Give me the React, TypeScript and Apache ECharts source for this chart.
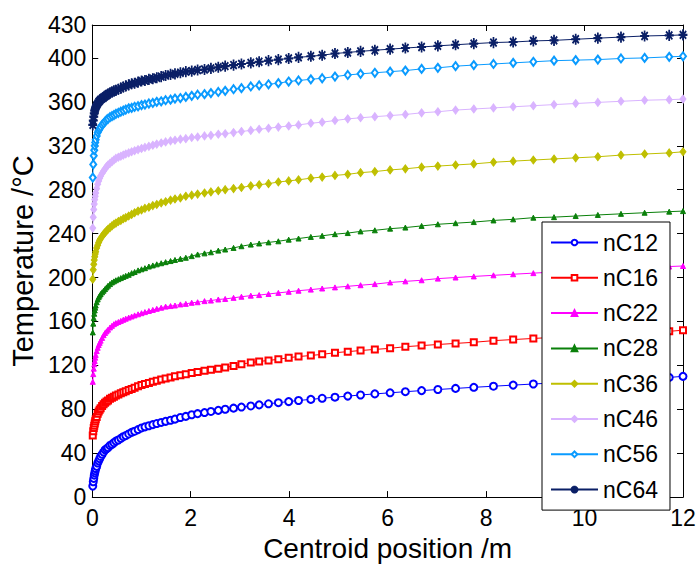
import React, { useEffect, useRef } from "react";
import * as echarts from "echarts";

// Centroid positions (m) — shared mesh, dense near x = 0
const positions = [
  0.01, 0.02, 0.03, 0.04, 0.05, 0.06, 0.07, 0.09, 0.11, 0.13, 0.15, 0.17, 0.2, 0.23, 0.26, 0.29, 0.32, 0.36, 0.4, 0.44,
  0.48, 0.53, 0.58, 0.63, 0.68, 0.74, 0.8, 0.86, 0.93, 1.0, 1.07, 1.15, 1.23, 1.31, 1.4, 1.49, 1.59, 1.68, 1.79, 1.9,
  2.02, 2.14, 2.28, 2.41, 2.56, 2.7, 2.87, 3.03, 3.22, 3.39, 3.58, 3.78, 3.99, 4.19, 4.44, 4.67, 4.93, 5.19, 5.45, 5.74,
  6.05, 6.36, 6.69, 7.02, 7.38, 7.75, 8.15, 8.55, 8.96, 9.38, 9.82, 10.27, 10.74, 11.22, 11.72, 12.0,
];

const nC12 = [
  10, 14, 17, 20, 22, 24, 26, 28, 31, 33, 35, 37, 39, 41, 43, 44, 45, 47, 48, 49.5,
  51, 52, 53.5, 55, 56, 57.5, 59, 60, 61.5, 63, 64, 65, 66, 67, 68, 69, 70, 71, 72.5, 73.5,
  75, 76, 77, 78, 79, 80, 81, 82, 83, 84, 85, 86, 87, 88, 89, 90, 91, 92, 93, 94,
  95, 96, 97, 98, 99, 100, 101, 102, 103, 104, 105, 106, 107, 108, 109, 110,
];
const nC16 = [
  56, 60, 63, 65, 67, 69, 71, 73, 76, 78, 79.5, 81, 83, 84.5, 86, 87, 88, 89.5, 90.5, 91.5,
  92.5, 93.5, 94.5, 95.5, 96.5, 97.5, 98.5, 99.5, 101, 102, 103, 104, 105, 106, 107, 108, 109, 110, 111, 112,
  113, 114, 115, 116, 117, 118, 119.5, 121, 122.5, 123.5, 124.5, 125.5, 127, 128, 129, 130, 131.5, 132.5, 133.5, 134.5,
  135.5, 137, 138, 139, 140, 141, 142.5, 143.5, 144.5, 145.5, 146.5, 147.5, 149, 150, 151, 152,
];
const nC22 = [
  105, 112, 117, 121, 124, 127, 129.5, 133, 136, 138.5, 140.5, 142.5, 145, 147.5, 149.5, 151, 152.5, 154.5, 156, 157.5,
  158.5, 159.5, 160.5, 161.5, 162.5, 163.5, 164.5, 165.5, 166.5, 167.5, 168.5, 169.5, 170.5, 171.5, 172.5, 173.5, 174, 174.5, 175.5, 176,
  177, 177.5, 178.5, 179, 180, 180.5, 181.5, 182.5, 183.5, 184, 185, 186, 187, 188, 189, 190, 191, 192, 193, 194,
  195.5, 196.5, 197.5, 199, 200, 201, 202, 203, 204, 205, 206, 207, 208, 209, 210, 210.5,
];
const nC28 = [
  150, 158, 163, 167, 170, 172.5, 174.5, 177.5, 180, 182, 183.5, 185, 186.5, 188, 189.5, 191, 192.5, 194, 195.5, 196.5,
  197.5, 198.5, 199.5, 200.5, 201.5, 202.5, 204, 205, 206.5, 207.5, 208.5, 210, 211, 212, 213, 214, 215, 216, 217, 218,
  219.5, 221, 222, 223, 224.5, 225.5, 227, 228.5, 230, 231, 232, 233, 234.5, 235.5, 237, 238, 239.5, 240.5, 242, 243,
  244.5, 245.5, 247, 248.5, 249.5, 250.5, 252, 253, 254.5, 255, 256, 257, 258, 259, 260, 260.5,
];
const nC36 = [
  198.5, 207, 212, 216, 219, 221.5, 223.5, 227, 229.5, 232, 234, 235.5, 237.5, 239.5, 241, 242.5, 244, 245.5, 247, 248.5,
  249.5, 251, 252, 253.5, 254.5, 256, 257.5, 259, 260.5, 261.5, 263, 264, 265.5, 266.5, 268, 269, 270.5, 271.5, 272.5, 274,
  275, 276, 277, 278, 279, 280, 281, 282, 283.5, 284.5, 285.5, 287, 288, 289, 290.5, 291.5, 293, 294, 295.5, 296.5,
  298, 299, 300.5, 301.5, 302.5, 303.5, 305, 306, 307, 308, 309, 310, 311.5, 312.5, 313.5, 314.5,
];
const nC46 = [
  245, 255, 262, 267, 271, 274, 277, 281, 285, 288, 290.5, 292.5, 295, 297, 299, 301, 302.5, 304, 305.5, 307,
  308.5, 309.5, 310.5, 311.5, 312.5, 313.5, 314.5, 315.5, 316.5, 317.5, 318.5, 319.5, 320.5, 321.5, 322.5, 323.5, 324.5, 325, 326, 326.5,
  327.5, 328, 329, 329.5, 330.5, 331, 332, 333, 334, 335, 336, 337, 338, 339, 340.5, 341.5, 343, 344.5, 345.5, 346.5,
  347.5, 348.5, 350, 351, 352.5, 353.5, 354.5, 355.5, 356.5, 357.5, 358.5, 359.5, 360.5, 361.5, 362, 362.5,
];
const nC56 = [
  291, 303, 311, 316, 320, 323, 325.5, 329, 332, 334, 335.5, 337, 339, 340.5, 342, 343.5, 344.5, 346, 347, 348,
  349, 350, 351, 352, 353, 354, 354.5, 355.5, 356, 357, 357.5, 358.5, 359, 360, 360.5, 361.5, 362, 363, 363.5, 364.5,
  365.5, 366.5, 367, 368, 369, 370, 371.5, 372.5, 374, 375, 376, 377, 378.5, 379.5, 380.5, 381.5, 383, 384.5, 385.5, 386.5,
  387.5, 388.5, 390, 391, 392.5, 393.5, 394.5, 395.5, 396.5, 397.5, 398, 398.5, 399.5, 400, 401, 401.5,
];
const nC64 = [
  339, 343, 346.5, 349.5, 352, 353.5, 355, 357, 358.5, 360, 361, 362, 363, 364, 365, 366, 367, 368, 369, 370,
  370.5, 371.5, 372.5, 373.5, 374.5, 375.5, 376.5, 377, 378, 379, 379.5, 380.5, 381, 382, 383, 384, 385, 385.5, 386.5, 387.5,
  388, 389, 389.5, 390.5, 391.5, 392.5, 393.5, 394.5, 395.5, 396.5, 397.5, 398.5, 399.5, 400.5, 401.5, 402.5, 404, 405, 406, 407,
  408, 409, 410, 411, 412, 413, 414, 414.5, 415.5, 416, 417, 418, 419, 420, 420.5, 421,
];

const seriesNames = ["nC12", "nC16", "nC22", "nC28", "nC36", "nC46", "nC56", "nC64"];
const seriesValues = [nC12, nC16, nC22, nC28, nC36, nC46, nC56, nC64];
const seriesColors = ["#0000ff", "#ff0000", "#ff00ff", "#0a800a", "#bfbf00", "#d9b3ff", "#0a9bff", "#0a1f66"];

const asterisk =
  "path://M9,0 H11 V20 H9 Z M0,9 H20 V11 H0 Z M2.2,3.6 L3.6,2.2 L17.8,16.4 L16.4,17.8 Z M16.4,2.2 L17.8,3.6 L3.6,17.8 L2.2,16.4 Z M7,7 H13 V13 H7 Z";
const seriesSymbols: any[] = ["emptyCircle", "emptyRect", "triangle", "triangle", "diamond", "diamond", "emptyDiamond", asterisk];
const seriesSymbolSizes: any[] = [7, 6, 5, 5, [6, 8], [6, 8], [6, 8], [8, 10]];

const xTicksMax = 12;
const yMax = 430;
const FONT = "'Liberation Sans', Arial, sans-serif";

export default function App() {
  const ref = useRef<HTMLDivElement>(null);
  useEffect(() => {
    if (!ref.current) return;
    const chart = echarts.init(ref.current, undefined, { renderer: "svg" });
    const axisCommon = {
      axisLine: { show: true, onZero: false, lineStyle: { color: "#000", width: 1 } },
      axisTick: { show: true, inside: true, length: 6, lineStyle: { color: "#000", width: 1 } },
      splitLine: { show: false },
    };
    chart.setOption({
      animation: false,
      textStyle: { fontFamily: FONT },
      grid: { left: 89, right: 16, top: 25, bottom: 65, containLabel: false },
      xAxis: [
        {
          type: "value",
          min: 0,
          max: xTicksMax,
          interval: 2,
          position: "bottom",
          ...axisCommon,
          axisLabel: { color: "#000", fontSize: 23, fontFamily: FONT, margin: 9 },
          name: "Centroid position /m",
          nameLocation: "middle",
          nameGap: 36,
          nameTextStyle: { color: "#000", fontSize: 28, fontFamily: FONT },
        },
        {
          type: "value",
          min: 0,
          max: xTicksMax,
          interval: 2,
          position: "top",
          ...axisCommon,
          axisLabel: { show: false },
        },
      ],
      yAxis: [
        {
          type: "value",
          min: 0,
          max: yMax,
          interval: 40,
          position: "left",
          ...axisCommon,
          axisLabel: { color: "#000", fontSize: 23, fontFamily: FONT, margin: 6, showMaxLabel: true },
          name: "Temperature /°C",
          nameLocation: "middle",
          nameGap: 55,
          nameTextStyle: { color: "#000", fontSize: 29, fontFamily: FONT },
        },
        {
          type: "value",
          min: 0,
          max: yMax,
          interval: 40,
          position: "right",
          ...axisCommon,
          axisLabel: { show: false },
        },
      ],
      legend: {
        orient: "vertical",
        left: 542,
        top: 222,
        width: 129,
        padding: [9, 12, 9, 8],
        itemWidth: 47,
        itemHeight: 7,
        itemGap: 12.3,
        backgroundColor: "#fff",
        borderColor: "#000",
        borderWidth: 1,
        borderRadius: 0,
        textStyle: { color: "#000", fontSize: 23, fontFamily: FONT, lineHeight: 22 },
        data: seriesNames,
      },
      series: seriesNames.map((name, i) => ({
        name,
        type: "line",
        xAxisIndex: 0,
        yAxisIndex: 0,
        data: positions.map((x, j) => [x, seriesValues[i][j]]),
        symbol: seriesSymbols[i],
        symbolSize: seriesSymbolSizes[i],
        showSymbol: true,
        lineStyle: { color: seriesColors[i], width: 1 },
        itemStyle: { color: seriesColors[i], borderColor: seriesColors[i], borderWidth: 1 },
        emphasis: { disabled: true },
      })),
    });
    return () => chart.dispose();
  }, []);
  return <div ref={ref} style={{ position: "fixed", left: 0, top: 0, width: 699, height: 567, background: "#fff" }} />;
}
